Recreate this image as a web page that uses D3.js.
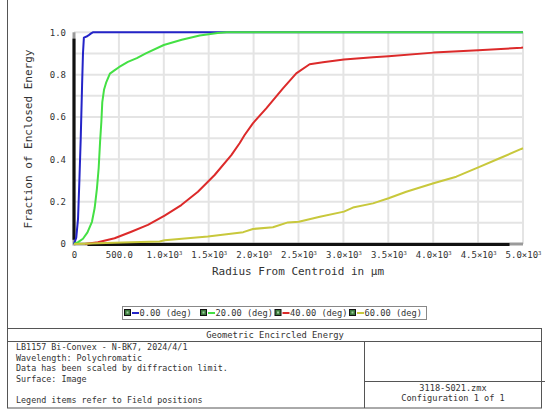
<!DOCTYPE html>
<html><head><meta charset="utf-8">
<script src="https://cdn.jsdelivr.net/npm/d3@7"></script>
<style>
html,body{margin:0;padding:0;background:#fff;}
text{font-family:"DejaVu Sans Mono",monospace;fill:#333;}
</style></head>
<body><svg id="c" width="550" height="416"></svg>
<script>
// ---- data ----
const xTickValues = [0,500,1000,1500,2000,2500,3000,3500,4000,4500,5000];
const xTickMant = ["0","500.0","1.0","1.5","2.0","2.5","3.0","3.5","4.0","4.5","5.0"];
const yTickValues = [0,0.2,0.4,0.6,0.8,1.0];
const yTickLabels = ["0","0.2","0.4","0.6","0.8","1.0"];
const seriesNames = ["0.00 (deg)","20.00 (deg)","40.00 (deg)","60.00 (deg)"];
const seriesColors = ["#2424c8","#44e044","#dc2a2a","#c8c83c"];

const blueX = [0,25,45,60,75,90,100,110,140,160,190,210,5000];
const blueY = [0,0.03,0.12,0.3,0.5,0.75,0.9,0.975,0.98,0.985,0.995,1.0,1.0];

const greenX = [0,50,100,150,200,230,255,275,290,305,315,335,360,400,450,500,600,700,800,1000,1200,1400,1600,1700,5000];
const greenY = [0,0.01,0.025,0.055,0.105,0.17,0.26,0.36,0.48,0.58,0.67,0.73,0.765,0.805,0.82,0.835,0.86,0.878,0.9,0.94,0.965,0.985,0.997,1.0,1.0];

const redX = [120,266,452,638,823,1009,1195,1380,1566,1752,1844,1900,1992,2141,2327,2475,2624,2772,3006,3329,3503,4004,4502,4981,5000];
const redY = [0,0.008,0.027,0.058,0.09,0.134,0.184,0.247,0.326,0.42,0.476,0.515,0.57,0.641,0.735,0.806,0.849,0.858,0.872,0.882,0.887,0.904,0.915,0.927,0.928];

const yellowX = [0,266,638,953,1009,1491,1885,1992,2215,2382,2504,2738,3006,3106,3329,3503,3700,4004,4257,4502,4740,4981,5000];
const yellowY = [0,0.003,0.008,0.012,0.018,0.035,0.056,0.071,0.079,0.102,0.105,0.129,0.153,0.172,0.192,0.216,0.247,0.287,0.318,0.362,0.405,0.449,0.452];

const tableTitle = "Geometric Encircled Energy";
const infoLines = ["LB1157 Bi-Convex - N-BK7, 2024/4/1","Wavelength: Polychromatic","Data has been scaled by diffraction limit.","Surface: Image","","Legend items refer to Field positions"];
const fileLines = ["3118-S021.zmx","Configuration 1 of 1"];

// ---- drawing ----
const svg = d3.select("#c");
const x = d3.scaleLinear().domain([0,5000]).range([74,523]);
const y = d3.scaleLinear().domain([0,1]).range([244,32.3]);

// outer left border
svg.append("line").attr("x1",7.5).attr("x2",7.5).attr("y1",0).attr("y2",328).attr("stroke","#555").attr("stroke-width",1);

// grid
const gridG = svg.append("g");
gridG.selectAll(".gv").data(xTickValues.slice(1)).join("line")
  .attr("x1",d=>x(d)).attr("x2",d=>x(d)).attr("y1",y(1)).attr("y2",y(0))
  .attr("stroke","#e4e4e4").attr("stroke-width",2);
gridG.selectAll(".gh").data(d3.range(1,11).map(i=>i/10)).join("line")
  .attr("x1",x(0)).attr("x2",x(5000)).attr("y1",d=>y(d)).attr("y2",d=>y(d))
  .attr("stroke","#e4e4e4").attr("stroke-width",2);

// axes (labels only)
const xAxis = d3.axisBottom(x).tickValues(xTickValues).tickSize(0).tickFormat((d,i)=>xTickMant[i]);
const gx = svg.append("g").attr("transform",`translate(0,${y(0)+5})`).call(xAxis);
gx.select(".domain").remove();
gx.selectAll("text").attr("font-size",9).attr("fill","#3a3a3a").attr("font-family","DejaVu Sans Mono")
  .each(function(d,i){
    if(i>=2){
      const t=d3.select(this); t.text(null);
      t.append("tspan").text(xTickMant[i]+"×10");
      t.append("tspan").attr("font-size",5.5).attr("dy",-3.5).text("3");
    }
  });

const yAxis = d3.axisLeft(y).tickValues(yTickValues).tickSize(0).tickFormat((d,i)=>yTickLabels[i]);
const gy = svg.append("g").attr("transform",`translate(${x(0)-5},0)`).call(yAxis);
gy.select(".domain").remove();
gy.selectAll("text").attr("font-size",9).attr("fill","#3a3a3a").attr("font-family","DejaVu Sans Mono");

// axis frame lines
svg.append("line").attr("x1",x(0)).attr("x2",x(0)).attr("y1",y(1)).attr("y2",y(0)+1.5).attr("stroke","#9a9a9a").attr("stroke-width",3);
svg.append("line").attr("x1",x(0)).attr("x2",x(5000)).attr("y1",y(0)).attr("y2",y(0)).attr("stroke","#9a9a9a").attr("stroke-width",3);
svg.append("line").attr("x1",x(0)).attr("x2",x(0)).attr("y1",y(0.97)).attr("y2",y(0.02)).attr("stroke","#111").attr("stroke-width",3);
svg.append("line").attr("x1",x(150)).attr("x2",x(4850)).attr("y1",y(0)+0.5).attr("y2",y(0)+0.5).attr("stroke","#111").attr("stroke-width",3);

// curves
const line = d3.line().x(d=>x(d[0])).y(d=>y(d[1]));
const series = [
  d3.zip(blueX,blueY), d3.zip(greenX,greenY), d3.zip(redX,redY), d3.zip(yellowX,yellowY)
];
series.forEach((s,i)=>{
  svg.append("path").datum(s).attr("d",line).attr("fill","none")
    .attr("stroke",seriesColors[i]).attr("stroke-width",2).attr("stroke-linejoin","round");
});

// axis titles
svg.append("text").attr("x",298).attr("y",275).attr("text-anchor","middle").attr("font-size",11).text("Radius From Centroid in µm");
svg.append("text").attr("transform","translate(32,139) rotate(-90)").attr("text-anchor","middle").attr("font-size",11).text("Fraction of Enclosed Energy");

// legend
svg.append("rect").attr("x",122.5).attr("y",306.5).attr("width",304).attr("height",13).attr("fill","#fff").attr("stroke","#888").attr("stroke-width",1);
const legX = [124,200,274.5,349];
legX.forEach((lx,i)=>{
  const g = svg.append("g");
  g.append("rect").attr("x",lx+0.5).attr("y",309.5).attr("width",6).attr("height",6).attr("fill","#3c7a3c").attr("stroke","#111").attr("stroke-width",1);
  g.append("rect").attr("x",lx+2.5).attr("y",311.5).attr("width",2).attr("height",2).attr("fill","#9fd09f");
  g.append("line").attr("x1",lx+8).attr("x2",lx+15).attr("y1",313).attr("y2",313).attr("stroke",seriesColors[i]).attr("stroke-width",2);
  g.append("text").attr("x",lx+15.5).attr("y",316).attr("font-size",8.7).text(seriesNames[i]);
});

// table
const T = svg.append("g").attr("fill","none").attr("stroke","#555").attr("stroke-width",1);
T.append("rect").attr("x",7.5).attr("y",328.5).attr("width",534).attr("height",79.5);
T.append("line").attr("x1",7.5).attr("x2",541.5).attr("y1",341.5).attr("y2",341.5);
T.append("line").attr("x1",364.5).attr("x2",364.5).attr("y1",341.5).attr("y2",408);
T.append("line").attr("x1",364.5).attr("x2",545).attr("y1",381.5).attr("y2",381.5);

svg.append("text").attr("x",275).attr("y",338).attr("text-anchor","middle").attr("font-size",8.8).text(tableTitle);
infoLines.forEach((t,i)=>{
  svg.append("text").attr("x",16).attr("y",350+i*10.6).attr("font-size",8.4).text(t);
});
fileLines.forEach((t,i)=>{
  svg.append("text").attr("x",453).attr("y",391+i*10.3).attr("text-anchor","middle").attr("font-size",8.6).text(t);
});
</script></body></html>
